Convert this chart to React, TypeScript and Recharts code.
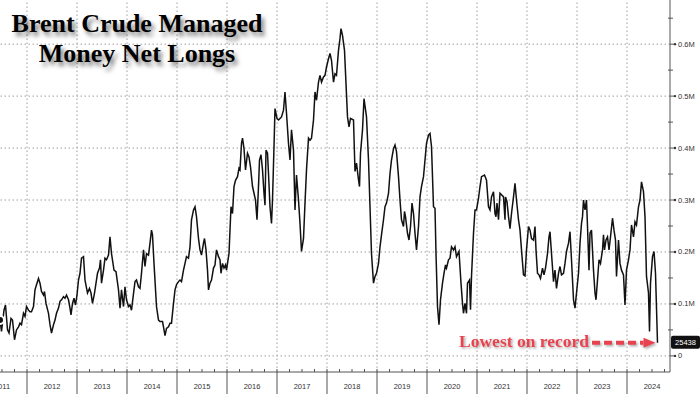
import { LineChart, Line, XAxis, YAxis, ReferenceLine } from "recharts";

// Weekly-ish readings of ICE Brent managed-money net length, in thousands of contracts.
const DATES = [
  2011.46, 2011.49, 2011.54, 2011.57, 2011.61, 2011.64, 2011.68, 2011.71, 2011.75, 2011.79,
  2011.83, 2011.86, 2011.89, 2011.93, 2011.96, 2011.99, 2012.03, 2012.06, 2012.09, 2012.13,
  2012.16, 2012.19, 2012.23, 2012.26, 2012.29, 2012.33, 2012.35, 2012.38, 2012.43, 2012.46,
  2012.49, 2012.53, 2012.56, 2012.59, 2012.63, 2012.66, 2012.69, 2012.73, 2012.76, 2012.79,
  2012.83, 2012.86, 2012.88, 2012.91, 2012.94, 2012.97, 2013.0, 2013.03, 2013.06, 2013.09,
  2013.13, 2013.16, 2013.21, 2013.25, 2013.28, 2013.31, 2013.35, 2013.38, 2013.41, 2013.45,
  2013.47, 2013.49, 2013.53, 2013.56, 2013.59, 2013.63, 2013.66, 2013.69, 2013.74, 2013.78,
  2013.83, 2013.86, 2013.89, 2013.93, 2013.96, 2013.99, 2014.03, 2014.06, 2014.09, 2014.13,
  2014.16, 2014.19, 2014.23, 2014.26, 2014.29, 2014.33, 2014.36, 2014.39, 2014.43, 2014.46,
  2014.49, 2014.51, 2014.54, 2014.59, 2014.63, 2014.66, 2014.71, 2014.73, 2014.76, 2014.79,
  2014.83, 2014.86, 2014.89, 2014.93, 2014.96, 2014.99, 2015.03, 2015.06, 2015.09, 2015.13,
  2015.16, 2015.19, 2015.23, 2015.26, 2015.29, 2015.33, 2015.36, 2015.39, 2015.43, 2015.46,
  2015.49, 2015.53, 2015.55, 2015.58, 2015.61, 2015.63, 2015.66, 2015.69, 2015.73, 2015.76,
  2015.79, 2015.83, 2015.86, 2015.88, 2015.91, 2015.94, 2015.97, 2015.99, 2016.04, 2016.08,
  2016.11, 2016.14, 2016.17, 2016.21, 2016.24, 2016.26, 2016.29, 2016.31, 2016.34, 2016.37,
  2016.41, 2016.44, 2016.47, 2016.51, 2016.54, 2016.57, 2016.6, 2016.63, 2016.65, 2016.68,
  2016.71, 2016.74, 2016.76, 2016.78, 2016.81, 2016.83, 2016.86, 2016.89, 2016.91, 2016.94,
  2016.96, 2017.0, 2017.03, 2017.06, 2017.09, 2017.13, 2017.16, 2017.19, 2017.23, 2017.26,
  2017.29, 2017.33, 2017.36, 2017.39, 2017.43, 2017.46, 2017.49, 2017.53, 2017.56, 2017.59,
  2017.63, 2017.66, 2017.69, 2017.73, 2017.76, 2017.79, 2017.83, 2017.86, 2017.89, 2017.93,
  2017.96, 2017.99, 2018.03, 2018.06, 2018.09, 2018.13, 2018.16, 2018.19, 2018.23, 2018.26,
  2018.28, 2018.31, 2018.35, 2018.41, 2018.44, 2018.47, 2018.53, 2018.56, 2018.59, 2018.63,
  2018.65, 2018.67, 2018.71, 2018.74, 2018.79, 2018.83, 2018.86, 2018.89, 2018.93, 2018.96,
  2018.99, 2019.03, 2019.06, 2019.09, 2019.13, 2019.16, 2019.19, 2019.23, 2019.26, 2019.29,
  2019.33, 2019.36, 2019.39, 2019.43, 2019.46, 2019.49, 2019.53, 2019.55, 2019.57, 2019.61,
  2019.64, 2019.67, 2019.7, 2019.73, 2019.76, 2019.79, 2019.83, 2019.86, 2019.89, 2019.93,
  2019.96, 2019.99, 2020.03, 2020.06, 2020.09, 2020.13, 2020.16, 2020.18, 2020.21, 2020.24,
  2020.27, 2020.31, 2020.34, 2020.37, 2020.39, 2020.43, 2020.46, 2020.49, 2020.53, 2020.56,
  2020.59, 2020.64, 2020.68, 2020.71, 2020.73, 2020.76, 2020.79, 2020.81, 2020.85, 2020.87,
  2020.89, 2020.93, 2020.96, 2020.99, 2021.03, 2021.06, 2021.09, 2021.15, 2021.19, 2021.23,
  2021.26, 2021.29, 2021.33, 2021.36, 2021.38, 2021.4, 2021.43, 2021.46, 2021.49, 2021.53,
  2021.56, 2021.57, 2021.6, 2021.63, 2021.66, 2021.69, 2021.73, 2021.76, 2021.79, 2021.83,
  2021.86, 2021.89, 2021.93, 2021.96, 2021.99, 2022.03, 2022.06, 2022.09, 2022.13, 2022.16,
  2022.18, 2022.21, 2022.24, 2022.27, 2022.31, 2022.34, 2022.37, 2022.41, 2022.44, 2022.46,
  2022.49, 2022.53, 2022.56, 2022.59, 2022.63, 2022.66, 2022.69, 2022.73, 2022.76, 2022.79,
  2022.83, 2022.86, 2022.89, 2022.93, 2022.96, 2022.99, 2023.03, 2023.06, 2023.09, 2023.11,
  2023.13, 2023.16, 2023.19, 2023.21, 2023.24, 2023.26, 2023.29, 2023.33, 2023.36, 2023.38,
  2023.41, 2023.44, 2023.47, 2023.51, 2023.53, 2023.55, 2023.58, 2023.61, 2023.64, 2023.67,
  2023.71, 2023.74, 2023.77, 2023.79, 2023.83, 2023.86, 2023.89, 2023.93, 2023.96, 2023.99,
  2024.03, 2024.06, 2024.09, 2024.13, 2024.16, 2024.19, 2024.23, 2024.26, 2024.29, 2024.33,
  2024.36, 2024.39, 2024.43, 2024.45, 2024.47, 2024.51, 2024.54, 2024.57, 2024.61,
];

const NET_LONGS_K = [
  69, 47, 88, 98, 50, 44, 72, 69, 31, 50,
  56, 63, 60, 82, 76, 95, 88, 85, 85, 95,
  127, 137, 149, 140, 124, 117, 124, 101, 82, 60,
  44, 60, 69, 82, 92, 105, 108, 114, 111, 117,
  108, 92, 79, 101, 111, 98, 117, 146, 159, 188,
  191, 146, 121, 130, 121, 101, 121, 140, 159, 169,
  185, 140, 165, 188, 185, 194, 229, 197, 165, 162,
  127, 92, 127, 95, 133, 108, 95, 98, 88, 120,
  143, 146, 133, 130, 159, 204, 172, 197, 194, 217,
  242, 233, 178, 95, 69, 66, 66, 56, 39, 53,
  56, 63, 63, 101, 127, 137, 143, 146, 143, 165,
  178, 191, 188, 210, 262, 281, 287, 268, 226, 204,
  194, 217, 226, 204, 165, 127, 140, 146, 169, 175,
  204, 191, 185, 159, 178, 169, 175, 165, 197, 287,
  274, 326, 338, 345, 361, 358, 409, 419, 399, 358,
  390, 383, 364, 326, 313, 300, 262, 326, 377, 387,
  358, 313, 290, 396, 390, 351, 287, 255, 300, 403,
  476, 457, 454, 457, 460, 473, 508, 467, 409, 377,
  435, 396, 281, 348, 300, 255, 201, 226, 294, 358,
  419, 415, 419, 454, 508, 492, 527, 540, 527, 537,
  540, 556, 572, 582, 569, 527, 543, 540, 588, 611,
  630, 617, 588, 460, 441, 457, 454, 355, 371, 339,
  326, 390, 435, 495, 460, 377, 287, 197, 140, 153,
  159, 178, 210, 233, 262, 287, 294, 313, 351, 377,
  399, 406, 393, 345, 300, 262, 249, 278, 268, 236,
  223, 249, 294, 274, 236, 204, 249, 306, 326, 345,
  377, 409, 425, 428, 403, 287, 284, 197, 95, 60,
  108, 140, 159, 175, 169, 185, 188, 210, 204, 210,
  191, 201, 140, 101, 82, 101, 82, 140, 146, 89,
  153, 236, 281, 281, 303, 326, 345, 348, 338, 287,
  281, 306, 316, 274, 268, 294, 262, 313, 310, 306,
  262, 306, 297, 268, 245, 274, 306, 332, 300, 262,
  242, 204, 156, 154, 204, 249, 242, 226, 223, 249,
  204, 159, 156, 149, 169, 156, 169, 197, 229, 239,
  197, 143, 165, 130, 159, 172, 156, 159, 178, 201,
  217, 239, 185, 108, 92, 121, 159, 217, 255, 268,
  300, 281, 300, 249, 165, 236, 242, 165, 121, 108,
  146, 185, 178, 204, 233, 204, 223, 229, 204, 229,
  265, 242, 223, 153, 223, 178, 165, 156, 98, 165,
  185, 204, 252, 229, 258, 252, 287, 300, 335, 316,
  268, 153, 121, 47, 140, 191, 201, 159, 25.438,
];

const LAST_VALUE = 25438;
const LAST_K = LAST_VALUE / 1000;

const YEARS = [2011, 2012, 2013, 2014, 2015, 2016, 2017, 2018, 2019, 2020, 2021, 2022, 2023, 2024];
const GRID_VALUES_K = [0, 100, 200, 300, 400, 500, 600];
const MINOR_VALUES_K = [50, 150, 250, 350, 450, 550, 650];

const X_DOMAIN: [number, number] = [2011.46, 2024.86];
const Y_DOMAIN: [number, number] = [-31, 685];

// arrow annotation starts around mid-2023 and runs to the last print
const ARROW_START = 2023.3;
const ARROW_END = 2024.57;

const AXIS = "#555";
const GRID = "#a0a0a0";
const RED = "#e8434f";
const TICK_FONT = "'Liberation Sans', Arial, sans-serif";

const data = DATES.map((date, i) => ({ date, value: NET_LONGS_K[i] }));

// quarter marks along the bottom; labels go in the middle of each year
const xTicks = YEARS.flatMap((y) => [y, y + 0.25, y + 0.5, y + 0.75]).filter(
  (t) => t >= X_DOMAIN[0] && t <= X_DOMAIN[1],
);
const yTicks = [...GRID_VALUES_K, ...MINOR_VALUES_K, LAST_K];

function XTick(props: any) {
  const { x, y, payload } = props;
  const v = payload.value as number;
  const frac = v - Math.floor(v);
  return (
    <g>
      <line x1={x} x2={x} y1={y} y2={y - 3} stroke={AXIS} />
      {frac === 0 && <line x1={x} x2={x} y1={y} y2={y + 22} stroke={AXIS} />}
      {frac === 0.5 && (
        <text x={x} y={y + 17} textAnchor="middle" fontSize={7.5} fill="#333" fontFamily={TICK_FONT}>
          {Math.floor(v)}
        </text>
      )}
    </g>
  );
}

function YTick(props: any) {
  const { x, y, payload } = props;
  const v = payload.value as number;
  if (v === LAST_K) {
    return (
      <g>
        <rect x={x + 1} y={y - 7} width={29} height={13} rx={2} fill="#111" />
        <text x={x + 15.5} y={y + 2.5} textAnchor="middle" fill="#fff" fontSize={7.5} fontFamily={TICK_FONT}>
          {LAST_VALUE}
        </text>
      </g>
    );
  }
  if (v % 100 !== 0) {
    return <line x1={x - 2} x2={x + 3} y1={y} y2={y} stroke={AXIS} />;
  }
  return (
    <g>
      <line x1={x} x2={x + 5} y1={y} y2={y} stroke={AXIS} />
      <circle cx={x + 5} cy={y} r={1.2} fill="#333" />
      <text x={x + 8} y={y + 2.5} fontSize={7.5} fill="#333" fontFamily={TICK_FONT}>
        {v === 0 ? "0" : `${v / 1000}M`}
      </text>
    </g>
  );
}

// dashed red arrow with its caption, drawn along the reference segment
function LowestArrow(props: any) {
  const { x1, y1, x2 } = props;
  const head = 12;
  return (
    <g filter="url(#softShadow)">
      <text
        x={x1 - 3}
        y={y1 + 4}
        textAnchor="end"
        fill={RED}
        fontSize={17.5}
        fontWeight="bold"
        fontFamily="'Liberation Serif', 'Times New Roman', serif"
      >
        Lowest on record
      </text>
      <line x1={x1} x2={x2 - head} y1={y1} y2={y1} stroke={RED} strokeWidth={4} strokeDasharray="8 4" />
      <path d={`M${x2 - head},${y1 - 5} L${x2},${y1} L${x2 - head},${y1 + 5} Z`} fill={RED} />
    </g>
  );
}

export default function App() {
  return (
    <div
      style={{
        position: "absolute",
        left: 0,
        top: 0,
        width: 700,
        height: 394,
        background: "#fff",
        overflow: "hidden",
      }}
    >
      <svg width={0} height={0} style={{ position: "absolute" }}>
        <defs>
          <filter id="softShadow" x="-10%" y="-40%" width="130%" height="200%">
            <feDropShadow dx="1.5" dy="1.5" stdDeviation="1" floodColor="#000" floodOpacity="0.35" />
          </filter>
        </defs>
      </svg>
      <LineChart width={700} height={394} data={data} margin={{ top: 0, right: 0, bottom: 0, left: 0 }}>
        {GRID_VALUES_K.map((v) => (
          <ReferenceLine key={`h${v}`} y={v} stroke={GRID} strokeDasharray="1.5 2.5" />
        ))}
        {YEARS.filter((y) => y > X_DOMAIN[0]).map((y) => (
          <ReferenceLine key={`v${y}`} x={y} stroke={GRID} strokeDasharray="1.5 2.5" />
        ))}
        <XAxis
          dataKey="date"
          type="number"
          domain={X_DOMAIN}
          allowDataOverflow
          ticks={xTicks}
          interval={0}
          tickLine={false}
          tickSize={0}
          tickMargin={0}
          height={22}
          axisLine={{ stroke: AXIS }}
          tick={<XTick />}
        />
        <YAxis
          orientation="right"
          type="number"
          domain={Y_DOMAIN}
          allowDataOverflow
          ticks={yTicks}
          interval={0}
          tickLine={false}
          tickSize={0}
          tickMargin={0}
          width={30}
          axisLine={{ stroke: AXIS }}
          tick={<YTick />}
        />
        <Line
          type="linear"
          dataKey="value"
          stroke="#111"
          strokeWidth={1.5}
          dot={false}
          isAnimationActive={false}
        />
        <ReferenceLine
          segment={[
            { x: ARROW_START, y: LAST_K },
            { x: ARROW_END, y: LAST_K },
          ]}
          shape={<LowestArrow />}
        />
      </LineChart>
      <div
        style={{
          position: "absolute",
          left: 0,
          top: 9,
          width: 274,
          textAlign: "center",
          fontFamily: "'Liberation Serif', 'Times New Roman', serif",
          fontWeight: "bold",
          fontSize: 26,
          lineHeight: "30px",
          color: "#000",
          textShadow: "3px 4px 4px rgba(0,0,0,0.5)",
        }}
      >
        Brent Crude Managed
        <br />
        Money Net Longs
      </div>
    </div>
  );
}
